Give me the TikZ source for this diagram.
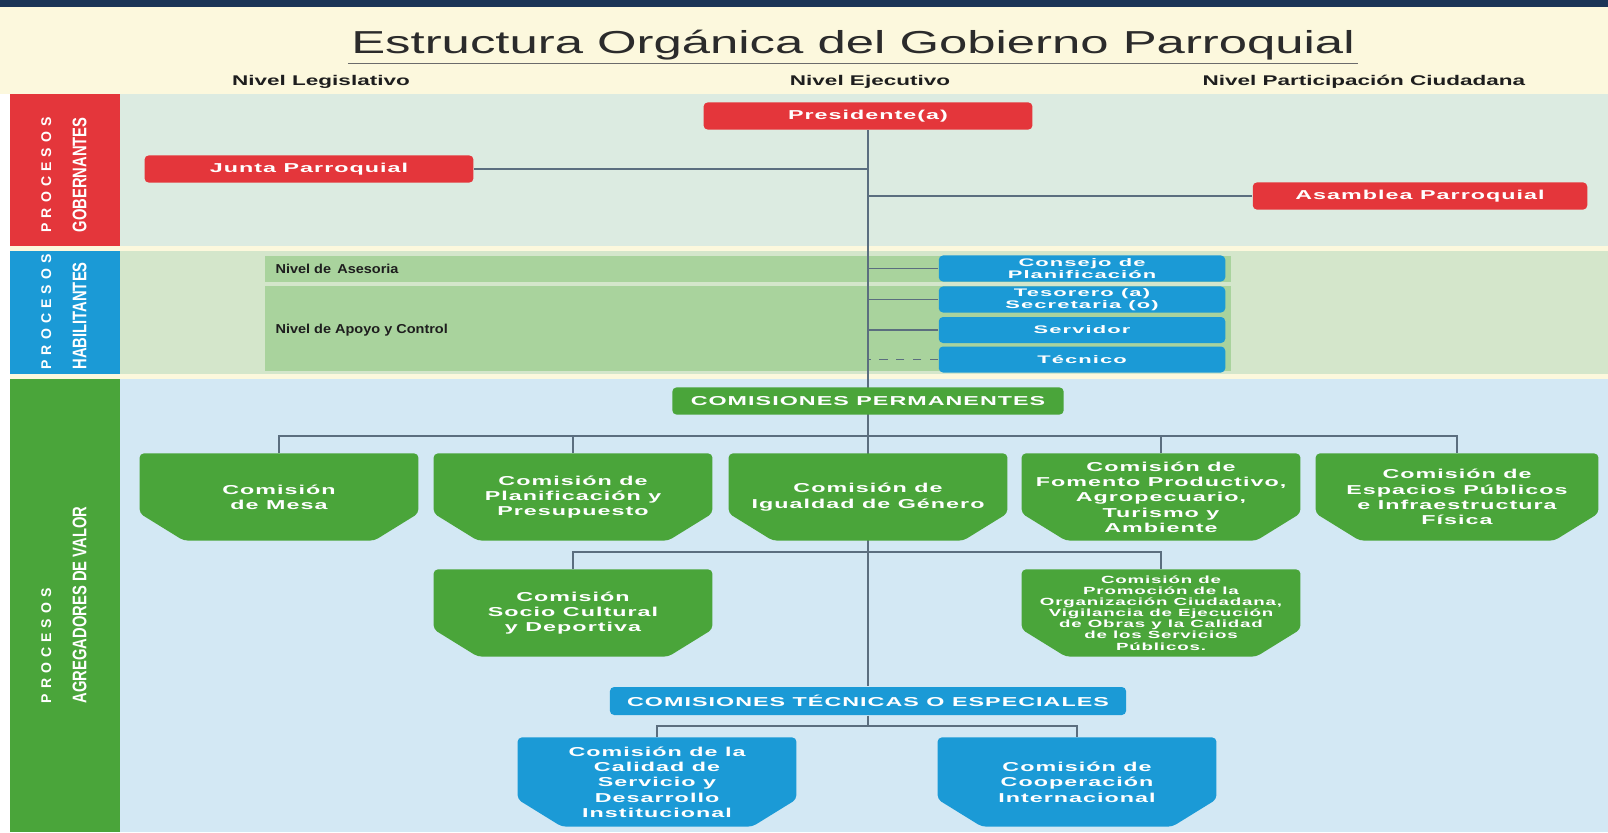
\documentclass[tikz,border=0pt]{standalone}
\usepackage{fontspec}
\setmainfont{Liberation Sans}
\newfontfamily\anchafont[FakeStretch=1.8,LetterSpace=8]{Liberation Sans}
\newfontfamily\cajitafont[FakeStretch=2.0,LetterSpace=10]{Liberation Sans}
\newfontfamily\nivelfont[FakeStretch=1.6]{Liberation Sans}
\newfontfamily\bandafont[FakeStretch=1.12]{Liberation Sans}
\newfontfamily\titulofont[FakeStretch=1.6]{Liberation Sans}
\newfontfamily\estrechafont[FakeStretch=0.75]{Liberation Sans}
\newfontfamily\espaciadafont[LetterSpace=8]{Liberation Sans}
\usetikzlibrary{backgrounds}
\definecolor{barraAzul}{HTML}{1B3557}
\definecolor{amarillo}{HTML}{FCF8DD}
\definecolor{rojo}{HTML}{E4363B}
\definecolor{azul}{HTML}{1B9AD6}
\definecolor{verde}{HTML}{4AA53A}
\definecolor{panelUno}{HTML}{DCEBE1}
\definecolor{panelDos}{HTML}{D4E6CB}
\definecolor{banda}{HTML}{A9D39D}
\definecolor{panelTres}{HTML}{D3E8F4}
\definecolor{linea}{HTML}{5B6E7F}
\definecolor{textoOscuro}{HTML}{1E1E1E}
\definecolor{tituloGris}{HTML}{2B2B2B}
\pgfdeclarelayer{fondo}
\pgfdeclarelayer{lineas}
\pgfdeclarelayer{cajas}
\pgfsetlayers{fondo,lineas,cajas,main}

\begin{document}
\begin{tikzpicture}[x=0.0125cm,y=-0.0125cm,
  cajaroja/.style={fill=rojo,rounded corners=1.5pt,text=white,inner sep=0pt,
    minimum height=0.34cm,font=\anchafont\bfseries\fontsize{4.6}{5.5}\selectfont},
  cajaazul/.style={fill=azul,rounded corners=1.5pt,text=white,inner sep=0pt,align=center,
    minimum width=3.58cm,minimum height=0.325cm,font=\cajitafont\bfseries\fontsize{3.9}{4.3}\selectfont},
  titulocom/.style={rounded corners=1.5pt,text=white,inner sep=0pt,
    minimum height=0.34cm,font=\anchafont\bfseries\fontsize{4.6}{5.5}\selectfont},
  comision/.style={text=white,align=center,inner sep=0pt,minimum width=3.47cm,minimum height=1.075cm,
    font=\anchafont\bfseries\fontsize{4.6}{5.45}\selectfont},
  proceso/.style={rotate=90,text=white,align=left,inner sep=0pt,font=\bfseries\fontsize{7}{12.5}\selectfont},
  nivel/.style={text=textoOscuro,inner sep=0pt,font=\nivelfont\bfseries\fontsize{5}{6}\selectfont},
  bandatexto/.style={text=textoOscuro,inner sep=0pt,anchor=west,font=\bandafont\bfseries\fontsize{4.6}{5.5}\selectfont},
  conector/.style={draw=linea,line width=0.7pt}]
\useasboundingbox (0,0) rectangle (1608,832);
\begin{pgfonlayer}{fondo}
\fill[amarillo] (0,0) rectangle (1608,832);
\fill[barraAzul] (0,0) rectangle (1608,7);
\fill[white] (0,94) rectangle (10,832);
\fill[panelUno] (120,94) rectangle (1608,246);
\fill[panelDos] (120,251) rectangle (1608,374);
\fill[banda] (265,256) rectangle (1231,282);
\fill[banda] (265,286) rectangle (1231,371);
\fill[panelTres] (120,379) rectangle (1608,832);
\fill[rojo] (10,94) rectangle (120,246);
\fill[azul] (10,251) rectangle (120,374);
\fill[verde] (10,379) rectangle (120,832);
\end{pgfonlayer}

\node[text=tituloGris,inner sep=1pt,font=\titulofont\fontsize{11.3}{13}\selectfont] (titulo) at (853,45) {Estructura Orgánica del Gobierno Parroquial};
\draw[tituloGris!70,line width=0.6pt] (titulo.south west) -- (titulo.south east);
\node[nivel] (legis) at (321,82) {Nivel Legislativo};
\node[nivel] (ejec) at (870,82) {Nivel Ejecutivo};
\node[nivel,anchor=west] (partic) at (1202,82) {Nivel Participación Ciudadana};

\node[proceso] (gob) at (64,175) {{\espaciadafont\fontsize{5}{5.5}\selectfont P R O C E S O S}\\{\estrechafont GOBERNANTES}};
\node[proceso] (hab) at (64,312) {{\espaciadafont\fontsize{5}{5.5}\selectfont P R O C E S O S}\\{\estrechafont HABILITANTES}};
\node[proceso] (agr) at (64,605) {{\espaciadafont\fontsize{5}{5.5}\selectfont P R O C E S O S}\\{\estrechafont AGREGADORES DE VALOR}};

\node[cajaroja,minimum width=4.11cm] (pres) at (868,116) {Presidente(a)};
\node[cajaroja,minimum width=4.11cm] (junta) at (309,169) {Junta Parroquial};
\node[cajaroja,minimum width=4.18cm] (asam) at (1420,196) {Asamblea Parroquial};

\node[bandatexto] (aseso) at (275,269) {Nivel de\, Asesoria};
\node[bandatexto] (apoyo) at (275,330) {Nivel de Apoyo y Control};
\node[cajaazul] (cons) at (1082,268.5) {Consejo de\\Planificación};
\node[cajaazul] (teso) at (1082,299.5) {Tesorero (a)\\Secretaria (o)};
\node[cajaazul] (serv) at (1082,330) {Servidor};
\node[cajaazul] (tecn) at (1082,359.5) {Técnico};

\node[titulocom,fill=verde,minimum width=4.89cm] (cperm) at (868,401) {COMISIONES PERMANENTES};
\node[comision] (c1) at (279,497) {Comisión\\de Mesa};
\node[comision] (c2) at (573,497) {Comisión de\\Planificación y\\Presupuesto};
\node[comision] (c3) at (868,497) {Comisión de\\Igualdad de Género};
\node[comision] (c4) at (1161,497) {Comisión de\\Fomento Productivo,\\Agropecuario,\\Turismo y\\Ambiente};
\node[comision,minimum width=3.52cm] (c5) at (1457,497) {Comisión de\\Espacios Públicos\\e Infraestructura\\Física};
\node[comision] (c6) at (573,613) {Comisión\\Socio Cultural\\y Deportiva};
\node[comision,font=\anchafont\bfseries\fontsize{3.7}{3.95}\selectfont] (c7) at (1161,613) {Comisión de\\Promoción de la\\Organización Ciudadana,\\Vigilancia de Ejecución\\de Obras y la Calidad\\de los Servicios\\Públicos.};
\node[titulocom,fill=azul,minimum width=6.45cm,minimum height=0.35cm] (ctec) at (868,701) {COMISIONES TÉCNICAS O ESPECIALES};
\node[comision,minimum height=1.1cm] (c8) at (657,782) {Comisión de la\\Calidad de\\Servicio y\\Desarrollo\\Institucional};
\node[comision,minimum height=1.1cm] (c9) at (1077,782) {Comisión de\\Cooperación\\Internacional};

\begin{pgfonlayer}{cajas}
\foreach \c/\col in {c1/verde,c2/verde,c3/verde,c4/verde,c5/verde,c6/verde,c7/verde,c8/azul,c9/azul}
  \fill[\col,rounded corners=1.5pt] (\c.north west) -- (\c.north east) -- ([yshift=0.34cm]\c.south east)
    -- ([xshift=-0.55cm]\c.south east) -- ([xshift=0.55cm]\c.south west) -- ([yshift=0.34cm]\c.south west) -- cycle;
\end{pgfonlayer}

\begin{pgfonlayer}{lineas}
\draw[conector] (pres.south) -- (ctec.north);
\draw[conector] (junta.east) -- (junta.east -| pres.south);
\draw[conector] (asam.west) -- (asam.west -| pres.south);
\draw[conector] (cons.west) -- (cons.west -| pres.south);
\draw[conector] (teso.west) -- (teso.west -| pres.south);
\draw[conector] (serv.west) -- (serv.west -| pres.south);
\draw[conector,dashed] (tecn.west) -- (tecn.west -| pres.south);
\coordinate (barraA) at (868,436);
\draw[conector] (c1.north) |- (barraA) -| (c5.north);
\draw[conector] (c2.north) |- (barraA);
\draw[conector] (c4.north) |- (barraA);
\coordinate (barraB) at (868,552);
\draw[conector] (c6.north) |- (barraB) -| (c7.north);
\coordinate (barraC) at (868,726);
\draw[conector] (ctec.south) -- (barraC);
\draw[conector] (c8.north) |- (barraC) -| (c9.north);
\end{pgfonlayer}
\end{tikzpicture}
\end{document}
